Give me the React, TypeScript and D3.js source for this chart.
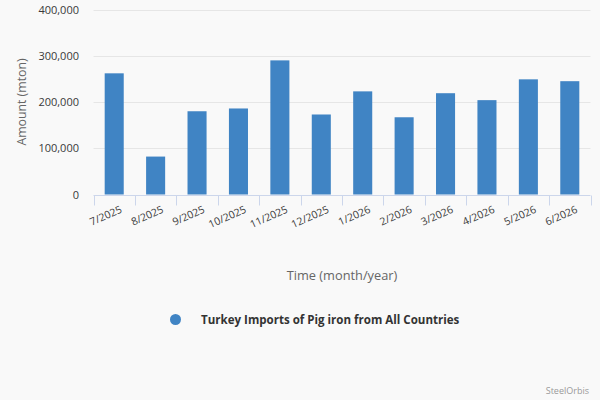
import React, { useEffect, useRef } from 'react';
import * as d3 from 'd3';

const months = ['7/2025', '8/2025', '9/2025', '10/2025', '11/2025', '12/2025', '1/2026', '2/2026', '3/2026', '4/2026', '5/2026', '6/2026'];
const amounts = [262000, 82000, 180000, 186000, 290000, 173000, 223000, 167000, 219000, 204000, 249000, 245000];
const yTicks = [0, 100000, 200000, 300000, 400000];
const seriesName = 'Turkey Imports of Pig iron from All Countries';

const FONT = '"Open Sans", sans-serif';

const App: React.FC = () => {
	const svgRef = useRef<SVGSVGElement>(null);

	useEffect(() => {
		if (svgRef.current == null) return;
		const width = 600;
		const height = 400;
		const margin = { top: 9.5, right: 9.5, bottom: 206, left: 93.5 };

		const svg = d3.select(svgRef.current);
		svg.selectAll('*').remove(); // Clear previous content

		svg.append('rect')
			.attr('width', width)
			.attr('height', height)
			.attr('fill', '#f9f9f9');

		const x = d3.scaleBand()
			.domain(months)
			.range([margin.left, width - margin.right]);

		const y = d3.scaleLinear()
			.domain([0, 400000])
			.range([height - margin.bottom + 0.5, margin.top]);

		// grid lines
		svg.append('g')
			.selectAll('line')
			.data(yTicks.filter(t => t > 0))
			.join('line')
			.attr('x1', margin.left)
			.attr('x2', width - margin.right)
			.attr('y1', d => Math.round(y(d)) + 0.5)
			.attr('y2', d => Math.round(y(d)) + 0.5)
			.attr('stroke', '#e6e6e6')
			.attr('stroke-width', 1);

		// y labels
		svg.append('g')
			.selectAll('text')
			.data(yTicks)
			.join('text')
			.attr('x', 79)
			.attr('y', d => y(d) + 4)
			.attr('text-anchor', 'end')
			.attr('font-family', FONT)
			.attr('font-size', 11)
			.attr('fill', '#3a3a3a')
			.text(d => d3.format(',')(d));

		// bars
		const barW = x.bandwidth() * 0.46;
		svg.append('g')
			.selectAll('rect')
			.data(amounts)
			.join('rect')
			.attr('x', (d, i) => (x(months[i]) as number) + (x.bandwidth() - barW) / 2)
			.attr('y', d => y(d))
			.attr('width', barW)
			.attr('height', d => y(0) - y(d))
			.attr('fill', '#4084c4');

		// x axis line and ticks
		const axisY = Math.round(y(0)) + 0.5;
		svg.append('line')
			.attr('x1', margin.left)
			.attr('x2', width - margin.right)
			.attr('y1', axisY)
			.attr('y2', axisY)
			.attr('stroke', '#ccd6eb');

		const tickXs = months.map(m => x(m) as number).concat([width - margin.right]);
		svg.append('g')
			.selectAll('line')
			.data(tickXs)
			.join('line')
			.attr('x1', d => Math.round(d) + 0.5)
			.attr('x2', d => Math.round(d) + 0.5)
			.attr('y1', axisY)
			.attr('y2', axisY + 10)
			.attr('stroke', '#ccd6eb');

		// x labels, rotated
		svg.append('g')
			.selectAll('text')
			.data(months)
			.join('text')
			.attr('transform', d => `translate(${(x(d) as number) + x.bandwidth() / 2 + 8.5},${axisY + 16.5}) rotate(-24)`)
			.attr('text-anchor', 'end')
			.attr('font-family', FONT)
			.attr('font-size', 10.5)
			.attr('fill', '#3a3a3a')
			.text(d => d);

		// axis titles
		svg.append('text')
			.attr('transform', `translate(26,${(y(0) + y(400000)) / 2}) rotate(-90)`)
			.attr('text-anchor', 'middle')
			.attr('font-family', FONT)
			.attr('font-size', 12.3)
			.attr('fill', '#666')
			.text('Amount (mton)');

		svg.append('text')
			.attr('x', (margin.left + width - margin.right) / 2)
			.attr('y', 280)
			.attr('text-anchor', 'middle')
			.attr('font-family', FONT)
			.attr('font-size', 12.8)
			.attr('fill', '#666')
			.text('Time (month/year)');

		// legend
		svg.append('circle')
			.attr('cx', 175.5)
			.attr('cy', 319.5)
			.attr('r', 5.5)
			.attr('fill', '#4084c4');

		svg.append('text')
			.attr('x', 201)
			.attr('y', 324)
			.attr('font-family', FONT)
			.attr('font-size', 11.55)
			.attr('font-weight', 'bold')
			.attr('fill', '#333')
			.text(seriesName);

		// credits
		svg.append('text')
			.attr('x', 589)
			.attr('y', 394)
			.attr('text-anchor', 'end')
			.attr('font-family', FONT)
			.attr('font-size', 9)
			.attr('fill', '#999')
			.text('SteelOrbis');
	}, []);

	return <svg ref={svgRef} width={600} height={400} style={{ position: 'absolute', left: 0, top: 0 }}></svg>;
};

export default App;
